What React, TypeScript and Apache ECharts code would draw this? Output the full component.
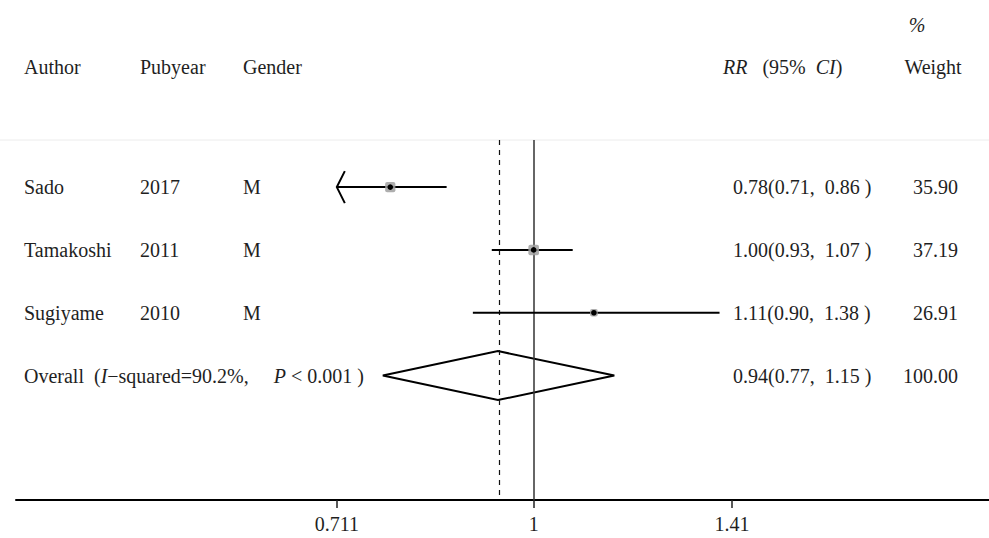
import React, { useEffect, useRef } from "react";
import * as echarts from "echarts";

// ---- data ----
const authors = ["Sado", "Tamakoshi", "Sugiyame"];
const pubyears = ["2017", "2011", "2010"];
const genders = ["M", "M", "M"];
const rr = [0.78, 1.0, 1.11];
const ciLow = [0.71, 0.93, 0.9];
const ciHigh = [0.86, 1.07, 1.38];
const weights = [35.9, 37.19, 26.91];
const rrLabels = ["0.78(0.71,  0.86 )", "1.00(0.93,  1.07 )", "1.11(0.90,  1.38 )"];
const weightLabels = ["35.90", "37.19", "26.91"];

const overallRR = 0.94;
const overallLow = 0.77;
const overallHigh = 1.15;
const overallRRLabel = "0.94(0.77,  1.15 )";
const overallWeightLabel = "100.00";
const iSquared = "90.2%";
const pValue = "0.001";

const tickValues = [0.711, 1, 1.41];
const tickLabels = ["0.711", "1", "1.41"];

const headers = ["Author", "Pubyear", "Gender"];

const FONT_FAMILY = '"Liberation Serif", "DejaVu Serif", serif';
const FS = 20;
const TXT = "#1f1f1f";

export default function App() {
  const ref = useRef<HTMLDivElement>(null);

  useEffect(() => {
    if (!ref.current) return;
    const chart = echarts.init(ref.current, null, { renderer: "svg" });
    const font = `${FS}px ${FONT_FAMILY}`;
    const clipMin = Math.log(tickValues[0]);

    const colX = [24, 140, 243];

    const studyData = rr.map((v, i) => [
      Math.log(v),
      i + 1,
      Math.log(ciLow[i]),
      Math.log(ciHigh[i]),
      weights[i],
    ]);

    const txt = (text: string, x: number, y: number, align = "left") => ({
      type: "text",
      style: {
        text,
        x,
        y,
        fill: TXT,
        font,
        align,
        verticalAlign: "middle",
      },
    });

    const richStyles = {
      i: { fontStyle: "italic", fontSize: FS, fontFamily: FONT_FAMILY, fill: TXT, color: TXT },
      n: { fontSize: FS, fontFamily: FONT_FAMILY, fill: TXT, color: TXT },
    };

    const option: any = {
      animation: false,
      backgroundColor: "#ffffff",
      grid: { left: 16, right: 0, top: 140, bottom: 38, containLabel: false },
      xAxis: {
        type: "value",
        min: -0.897,
        max: 0.789,
        splitLine: { show: false },
        axisLine: { show: true, lineStyle: { color: "#000", width: 2 } },
        axisTick: {
          show: true,
          length: 8,
          customValues: tickValues.map((t) => Math.log(t)),
          lineStyle: { color: "#222", width: 1.5 },
        },
        axisLabel: {
          show: true,
          customValues: tickValues.map((t) => Math.log(t)),
          margin: 14,
          color: TXT,
          fontSize: FS,
          fontFamily: FONT_FAMILY,
          formatter: (val: number) => {
            let best = 0;
            tickValues.forEach((t, k) => {
              if (Math.abs(Math.log(t) - val) < Math.abs(Math.log(tickValues[best]) - val)) best = k;
            });
            return tickLabels[best];
          },
        },
      },
      yAxis: {
        type: "value",
        inverse: true,
        min: 0.25,
        max: 5.98,
        show: false,
        splitLine: { show: false },
      },
      graphic: [
        {
          type: "line",
          shape: { x1: 0, y1: 140, x2: 989, y2: 140 },
          style: { stroke: "#ececec", lineWidth: 1 },
          silent: true,
        },
        ...headers.map((h, k) => ({
          type: "text",
          x: colX[k],
          y: 67,
          style: { text: h, fill: TXT, font, verticalAlign: "middle" },
        })),
        {
          type: "text",
          x: 723,
          y: 67,
          style: {
            text: "{i|RR}{n|   (95%  }{i|CI}{n|)}",
            verticalAlign: "middle",
            rich: richStyles,
          },
        },
        {
          type: "text",
          x: 917,
          y: 25,
          style: { text: "%", fill: TXT, font: `italic ${FS}px ${FONT_FAMILY}`, align: "center", verticalAlign: "middle" },
        },
        {
          type: "text",
          x: 933,
          y: 67,
          style: { text: "Weight", fill: TXT, font, align: "center", verticalAlign: "middle" },
        },
      ],
      series: [
        {
          type: "custom",
          name: "studies",
          coordinateSystem: "cartesian2d",
          encode: { x: 0, y: 1 },
          data: studyData,
          renderItem: (params: any, api: any) => {
            const i = params.dataIndex;
            const row = api.value(1);
            const [xe, y] = api.coord([api.value(0), row]);
            const lowV = api.value(2);
            const clipped = lowV < clipMin;
            const xl = api.coord([Math.max(lowV, clipMin), row])[0];
            const xh = api.coord([api.value(3), row])[0];
            const side = api.value(4) / 3.5;
            const children: any[] = [
              {
                type: "line",
                shape: { x1: xl, y1: y, x2: xh, y2: y },
                style: { stroke: "#000", lineWidth: 2 },
              },
              {
                type: "rect",
                shape: { x: xe - side / 2, y: y - side / 2, width: side, height: side, r: 2 },
                style: { fill: "#a0a0a0", opacity: 0.85 },
              },
              {
                type: "circle",
                shape: { cx: xe, cy: y, r: 2.8 },
                style: { fill: "#000" },
              },
              txt(authors[i], colX[0], y),
              txt(pubyears[i], colX[1], y),
              txt(genders[i], colX[2], y),
              txt(rrLabels[i], 733, y),
              txt(weightLabels[i], 958, y, "right"),
            ];
            if (clipped) {
              children.push({
                type: "polyline",
                shape: { points: [[xl + 8, y - 16], [xl, y], [xl + 8, y + 16]] },
                style: { stroke: "#000", lineWidth: 2, fill: "none" },
              });
            }
            return { type: "group", children };
          },
          z: 5,
        },
        {
          type: "custom",
          name: "overall",
          coordinateSystem: "cartesian2d",
          encode: { x: 0, y: 1 },
          data: [[Math.log(overallRR), 4, Math.log(overallLow), Math.log(overallHigh)]],
          renderItem: (params: any, api: any) => {
            const row = api.value(1);
            const [xe, y] = api.coord([api.value(0), row]);
            const xl = api.coord([api.value(2), row])[0];
            const xh = api.coord([api.value(3), row])[0];
            const h = 24.5;
            return {
              type: "group",
              children: [
                {
                  type: "polygon",
                  shape: { points: [[xl, y], [xe, y - h], [xh, y], [xe, y + h]] },
                  style: { stroke: "#000", lineWidth: 2, fill: "#fff" },
                  z2: 10,
                },
                {
                  type: "text",
                  style: {
                    text: `{n|Overall  (}{i|I}{n|−squared=${iSquared},     }{i|P}{n| < ${pValue} )}`,
                    x: colX[0],
                    y,
                    verticalAlign: "middle",
                    rich: richStyles,
                  },
                },
                txt(overallRRLabel, 733, y),
                txt(overallWeightLabel, 958, y, "right"),
              ],
            };
          },
          markLine: {
            silent: true,
            symbol: "none",
            label: { show: false },
            data: [
              { xAxis: 0, lineStyle: { color: "#333", width: 1.5, type: "solid" } },
              { xAxis: Math.log(overallRR), lineStyle: { color: "#111", width: 1.2, type: [5, 5] } },
            ],
          },
          z: 3,
        },
      ],
    };

    chart.setOption(option);
    return () => chart.dispose();
  }, []);

  return (
    <div
      ref={ref}
      style={{ position: "absolute", left: 0, top: 0, width: 989, height: 538, background: "#fff" }}
    />
  );
}
